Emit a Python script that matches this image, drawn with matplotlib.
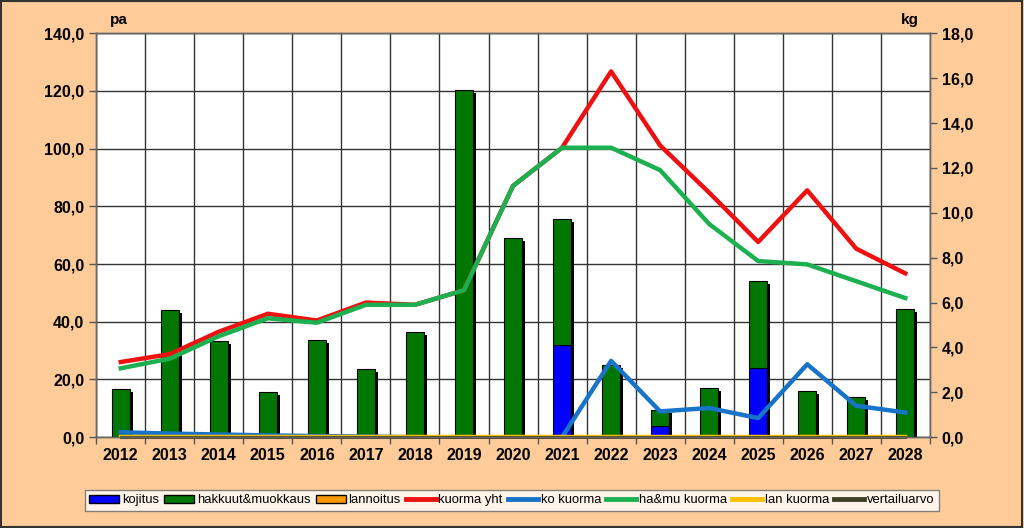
import numpy as np
import matplotlib.pyplot as plt
import matplotlib.transforms as mtransforms
from matplotlib.patches import Rectangle
from matplotlib.lines import Line2D
from matplotlib.ticker import FuncFormatter, FixedLocator

plt.rcParams['font.family'] = ['Liberation Sans', 'DejaVu Sans']

years = [2012, 2013, 2014, 2015, 2016, 2017, 2018, 2019, 2020,
         2021, 2022, 2023, 2024, 2025, 2026, 2027, 2028]
kojitus = [0, 0, 0, 0, 0, 0, 0, 0, 0, 32.0, 0, 4.0, 0, 24.0, 0, 0, 0]
hakkuut = [16.7, 44.0, 33.5, 15.5, 33.8, 23.5, 36.3, 120.3, 69.0,
           43.5, 25.0, 5.3, 17.0, 30.0, 16.0, 14.0, 44.5]
lannoitus = [0] * 17

kuorma_yht = [3.35, 3.7, 4.7, 5.5, 5.2, 6.0, 5.9, 6.55, 11.2,
              12.9, 16.3, 13.0, 10.9, 8.7, 11.0, 8.4, 7.3]
ko_kuorma = [0.22, 0.16, 0.12, 0.08, 0.05, 0.03, 0.0, 0.0, 0.0,
             0.0, 3.4, 1.15, 1.3, 0.85, 3.25, 1.4, 1.1]
hamu_kuorma = [3.07, 3.5, 4.5, 5.3, 5.1, 5.9, 5.9, 6.55, 11.2,
               12.9, 12.9, 11.9, 9.5, 7.85, 7.7, 6.95, 6.2]
lan_kuorma = [0] * 17
vertailuarvo = [0] * 17

bg = '#FFCC99'
fig = plt.figure(figsize=(10.24, 5.28), dpi=100, facecolor=bg)
ax = fig.add_axes([0.094, 0.172, 0.814, 0.765])
ax2 = ax.twinx()

x = np.arange(len(years))
w = 0.37
tot = np.array(kojitus) + np.array(hakkuut) + np.array(lannoitus)

shadow = mtransforms.offset_copy(ax.transData, fig=fig, x=3, y=-3, units='dots')
ax.bar(x, tot, w, color='black', transform=shadow, zorder=2)
ax.bar(x, kojitus, w, color='#0000FF', edgecolor='black', linewidth=0.8, zorder=3)
ax.bar(x, hakkuut, w, bottom=kojitus, color='#007700', edgecolor='black', linewidth=0.8, zorder=3)

ax.set_xlim(-0.5, len(years) - 0.5)
ax.set_ylim(0, 140)
ax.set_yticks(np.arange(0, 141, 20))
ax.yaxis.set_major_formatter(FuncFormatter(lambda v, p: f'{v:.1f}'.replace('.', ',')))
ax.set_xticks(x)
ax.set_xticklabels([str(y) for y in years])
ax.xaxis.set_minor_locator(FixedLocator(np.arange(-0.5, len(years), 1.0)))
ax.tick_params(axis='x', which='major', length=0, pad=8)
ax.tick_params(axis='x', which='minor', length=5, width=1, color='#555555')
ax.tick_params(axis='y', length=5, width=1, color='#555555')
ax.grid(axis='y', color='#333333', linewidth=1, zorder=0)
ax.grid(axis='x', which='minor', color='#333333', linewidth=1, zorder=0)
ax.set_axisbelow(True)
for lab in ax.get_xticklabels() + ax.get_yticklabels():
    lab.set_fontweight('bold')
    lab.set_fontsize(11.5)

ax2.plot(x, kuorma_yht, color='#EE1111', linewidth=3.2)
ax2.plot(x, ko_kuorma, color='#1874C8', linewidth=3.2)
ax2.plot(x, hamu_kuorma, color='#1DB050', linewidth=3.2)
ax2.plot(x, lan_kuorma, color='#FFC000', linewidth=3.2)
ax2.plot(x, vertailuarvo, color='#404028', linewidth=2, clip_on=False)
ax2.set_ylim(0, 18)
ax2.set_yticks(np.arange(0, 19, 2))
ax2.yaxis.set_major_formatter(FuncFormatter(lambda v, p: f'{v:.1f}'.replace('.', ',')))
ax2.tick_params(axis='y', length=5, width=1, color='#555555')
for lab in ax2.get_yticklabels():
    lab.set_fontweight('bold')
    lab.set_fontsize(11.5)

for a in (ax, ax2):
    for s in a.spines.values():
        s.set_color('#666666')
        s.set_linewidth(1)

fig.text(0.107, 0.962, 'pa', fontsize=11, fontweight='bold', ha='left', va='center')
fig.text(0.897, 0.962, 'kg', fontsize=11, fontweight='bold', ha='right', va='center')

handles = [
    Rectangle((0, 0), 1, 1, facecolor='#0000FF', edgecolor='black'),
    Rectangle((0, 0), 1, 1, facecolor='#007700', edgecolor='black'),
    Rectangle((0, 0), 1, 1, facecolor='#FF9900', edgecolor='black'),
    Line2D([], [], color='#EE1111', linewidth=3.5),
    Line2D([], [], color='#1874C8', linewidth=3.5),
    Line2D([], [], color='#1DB050', linewidth=3.5),
    Line2D([], [], color='#FFC000', linewidth=3.5),
    Line2D([], [], color='#404028', linewidth=3.5),
]
labels = ['kojitus', 'hakkuut&muokkaus', 'lannoitus', 'kuorma yht', 'ko kuorma',
          'ha&mu kuorma', 'lan kuorma', 'vertailuarvo']
leg = fig.legend(handles, labels, loc='center', bbox_to_anchor=(0.5, 0.0525),
                 ncol=8, fontsize=9.4, frameon=True, fancybox=False, handlelength=2.3,
                 handleheight=0.6, handletextpad=0.2, columnspacing=0.4,
                 borderpad=0.35, edgecolor='#666666')
leg.get_frame().set_linewidth(1)

fig.patches.append(Rectangle((0.001, 0.002), 0.997, 0.996, transform=fig.transFigure,
                             fill=False, edgecolor='#333333', linewidth=1.5))

fig.savefig('out.png', dpi=100, facecolor=bg)
